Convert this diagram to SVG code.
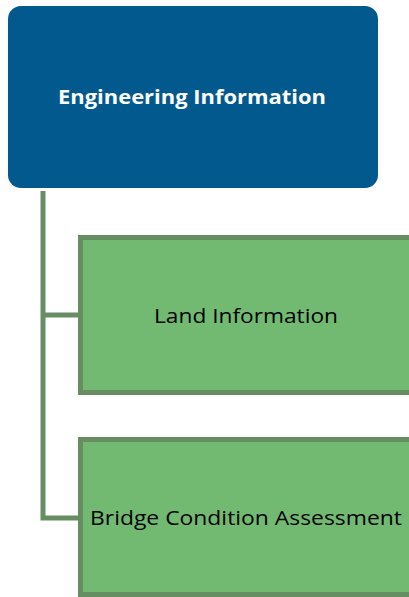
<svg xmlns="http://www.w3.org/2000/svg" width="409" height="597" viewBox="0 0 409 597">
<style>
.child rect{fill:#72BA71;stroke:#668E62;stroke-width:5}
.child text{font-family:"Open Sans","Liberation Sans",sans-serif;font-size:20.5px;fill:#000;text-anchor:middle}
.conn{fill:none;stroke:#668E62;stroke-width:5}
</style>
<g id="connectors">
<path class="conn" d="M43 191 V518 H80 M43 315 H80"/>
</g>
<g id="root">
<rect x="8" y="6" width="370" height="182" rx="13" fill="#02598E"/>
<text x="192" y="104" font-family="'Open Sans','Liberation Sans',sans-serif" font-weight="bold" font-size="20" fill="#fff" text-anchor="middle" textLength="268" lengthAdjust="spacingAndGlyphs">Engineering Information</text>
</g>
<g id="land" class="child">
<rect x="80.5" y="237.5" width="332" height="155"/>
<text x="246" y="323" textLength="184" lengthAdjust="spacingAndGlyphs">Land Information</text>
</g>
<g id="bridge" class="child">
<rect x="80.5" y="439.5" width="332" height="155"/>
<text x="246" y="525" textLength="312" lengthAdjust="spacingAndGlyphs">Bridge Condition Assessment</text>
</g>
</svg>
